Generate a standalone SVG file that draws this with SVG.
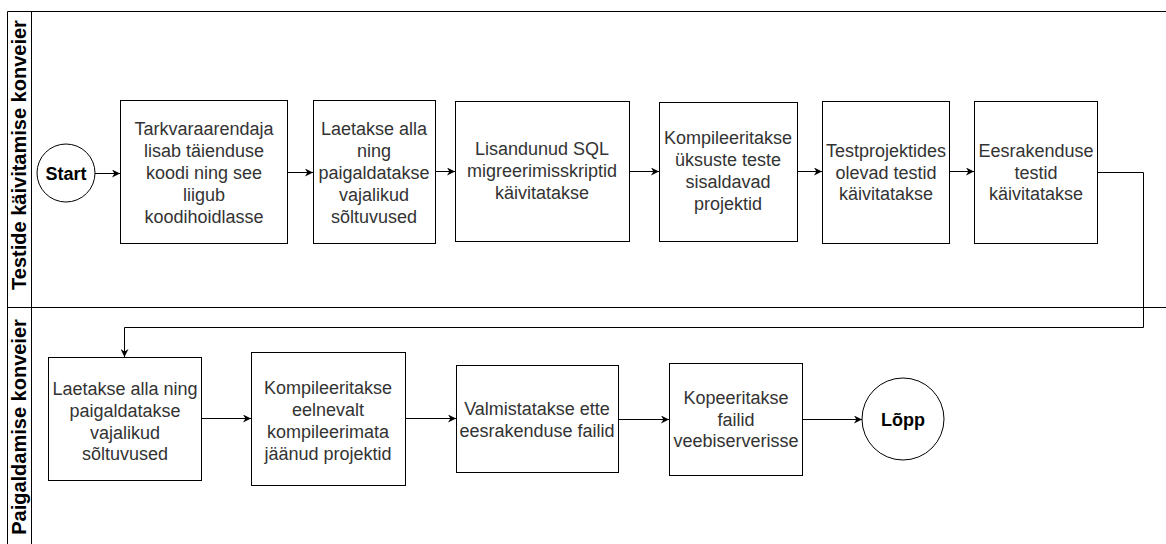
<svg xmlns="http://www.w3.org/2000/svg" width="1166" height="544" viewBox="0 0 1166 544">
<defs>
<style>
.lane{fill:none;stroke:#000;stroke-width:1}
.box{fill:#fff;stroke:#000;stroke-width:1}
.t{font-family:"Liberation Sans",Arial,sans-serif;font-size:18px;fill:#333;text-anchor:middle}
.b{font-family:"Liberation Sans",Arial,sans-serif;font-size:18px;font-weight:bold;fill:#000;text-anchor:middle}
.lt{font-family:"Liberation Sans",Arial,sans-serif;font-size:20px;font-weight:bold;fill:#000;text-anchor:middle}
.c{fill:none;stroke:#000;stroke-width:1}
</style>
<marker id="ah" viewBox="0 0 10 10" refX="10" refY="5" markerWidth="8" markerHeight="8" markerUnits="userSpaceOnUse" orient="auto">
<path d="M0,0 L10,5 L0,10 L3,5 Z" fill="#000"/>
</marker>
</defs>
<rect width="1166" height="544" fill="#fff"/>
<g id="lanes">
<line class="lane" x1="7.5" y1="11.5" x2="1166" y2="11.5"/>
<line class="lane" x1="7.5" y1="11.5" x2="7.5" y2="544"/>
<line class="lane" x1="31.5" y1="11.5" x2="31.5" y2="544"/>
<line class="lane" x1="7.5" y1="307.5" x2="1166" y2="307.5"/>
<text class="lt" transform="translate(26,155) rotate(-90)">Testide käivitamise konveier</text>
<text class="lt" transform="translate(26,427) rotate(-90)">Paigaldamise konveier</text>
</g>
<g id="connectors">
<path class="c" marker-end="url(#ah)" d="M95,173.5 H120"/>
<path class="c" marker-end="url(#ah)" d="M287,172.5 H313"/>
<path class="c" marker-end="url(#ah)" d="M435,171.5 H455"/>
<path class="c" marker-end="url(#ah)" d="M629,171.5 H659"/>
<path class="c" marker-end="url(#ah)" d="M797,171.5 H822"/>
<path class="c" marker-end="url(#ah)" d="M949,171.5 H974"/>
<path class="c" marker-end="url(#ah)" d="M1097,172.5 H1143.5 V327.5 H124.5 V357"/>
<path class="c" marker-end="url(#ah)" d="M201,418.5 H251"/>
<path class="c" marker-end="url(#ah)" d="M405,418.5 H456"/>
<path class="c" marker-end="url(#ah)" d="M618,419.5 H669"/>
<path class="c" marker-end="url(#ah)" d="M802,419.5 H862"/>
</g>
<g id="start">
<circle class="box" cx="66" cy="173" r="29"/>
<text class="b" x="66" y="179.5">Start</text>
</g>
<g id="n1">
<rect class="box" x="120.5" y="100.5" width="167" height="143"/>
<text class="t" x="204" y="134.5">Tarkvaraarendaja</text>
<text class="t" x="204" y="156.5">lisab täienduse</text>
<text class="t" x="204" y="179">koodi ning see</text>
<text class="t" x="204" y="201">liigub</text>
<text class="t" x="204" y="223">koodihoidlasse</text>
</g>
<g id="n2">
<rect class="box" x="313.5" y="100.5" width="122" height="143"/>
<text class="t" x="374" y="134.5">Laetakse alla</text>
<text class="t" x="374" y="156.5">ning</text>
<text class="t" x="374" y="178.5">paigaldatakse</text>
<text class="t" x="374" y="201">vajalikud</text>
<text class="t" x="374" y="223">sõltuvused</text>
</g>
<g id="n3">
<rect class="box" x="455.5" y="101.5" width="174" height="140"/>
<text class="t" x="542" y="154.5">Lisandunud SQL</text>
<text class="t" x="542" y="176.5">migreerimisskriptid</text>
<text class="t" x="542" y="198.5">käivitatakse</text>
</g>
<g id="n4">
<rect class="box" x="659.5" y="102.5" width="138" height="139"/>
<text class="t" x="728" y="143.5">Kompileeritakse</text>
<text class="t" x="728" y="166">üksuste teste</text>
<text class="t" x="728" y="188">sisaldavad</text>
<text class="t" x="728" y="209.5">projektid</text>
</g>
<g id="n5">
<rect class="box" x="822.5" y="101.5" width="127" height="142"/>
<text class="t" x="886" y="156.5">Testprojektides</text>
<text class="t" x="886" y="178.5">olevad testid</text>
<text class="t" x="886" y="199.5">käivitatakse</text>
</g>
<g id="n6">
<rect class="box" x="974.5" y="101.5" width="123" height="142"/>
<text class="t" x="1036" y="156.5">Eesrakenduse</text>
<text class="t" x="1036" y="178.5">testid</text>
<text class="t" x="1036" y="199.5">käivitatakse</text>
</g>
<g id="n7">
<rect class="box" x="48.5" y="357.5" width="153" height="123"/>
<text class="t" x="125" y="394.5">Laetakse alla ning</text>
<text class="t" x="125" y="416.5">paigaldatakse</text>
<text class="t" x="125" y="438.5">vajalikud</text>
<text class="t" x="125" y="459.5">sõltuvused</text>
</g>
<g id="n8">
<rect class="box" x="251.5" y="352.5" width="154" height="133"/>
<text class="t" x="328" y="393.5">Kompileeritakse</text>
<text class="t" x="328" y="415.5">eelnevalt</text>
<text class="t" x="328" y="437.5">kompileerimata</text>
<text class="t" x="328" y="459.5">jäänud projektid</text>
</g>
<g id="n9">
<rect class="box" x="456.5" y="365.5" width="162" height="107"/>
<text class="t" x="537" y="414.5">Valmistatakse ette</text>
<text class="t" x="537" y="436.5">eesrakenduse failid</text>
</g>
<g id="n10">
<rect class="box" x="669.5" y="363.5" width="133" height="112"/>
<text class="t" x="736" y="403.5">Kopeeritakse</text>
<text class="t" x="736" y="425.5">failid</text>
<text class="t" x="736" y="446.5">veebiserverisse</text>
</g>
<g id="end">
<circle class="box" cx="903" cy="419" r="41"/>
<text class="b" x="903" y="425.5">Lõpp</text>
</g>
</svg>
